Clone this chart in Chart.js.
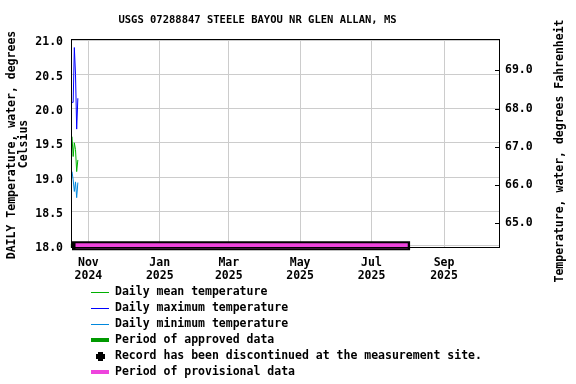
<!DOCTYPE html>
<html>
<head>
<meta charset="utf-8">
<script src="https://cdn.jsdelivr.net/npm/chart.js@4"></script>
<style>
  body { margin: 0; background: #fff; }
  #chart { display: block; }
</style>
</head>
<body>
<canvas id="chart" width="576" height="384"></canvas>
<script>
// daily values (deg C)
const dataDays = ['2024-10-18', '2024-10-19', '2024-10-20', '2024-10-21', '2024-10-22', '2024-10-23']
const meanTemp = [19.59, 19.30, 19.50, 19.40, 19.08, 19.25]
const maxTemp = [20.09, 20.09, 20.89, 20.50, 19.70, 20.15]
const minTemp = [19.08, 18.96, 18.79, 18.93, 18.70, 18.92]

// periods drawn along the bottom of the plot
const approvedPeriod = ['2024-10-17', '2024-10-18']
const discontinuedPeriod = ['2024-10-18', '2025-08-03']
const provisionalPeriod = ['2024-10-21', '2025-08-01']

// axes
const xRange = ['2024-10-18', '2025-10-18']
const monthTicks = ['2024-11-01', '2025-01-01', '2025-03-01', '2025-05-01', '2025-07-01', '2025-09-01']
const monthLabels = [['Nov', '2024'], ['Jan', '2025'], ['Mar', '2025'], ['May', '2025'], ['Jul', '2025'], ['Sep', '2025']]
const celsiusTicks = [18.0, 18.5, 19.0, 19.5, 20.0, 20.5, 21.0]
const fahrenheitTicks = [65.0, 66.0, 67.0, 68.0, 69.0]
const celsiusRange = [17.98, 21.0]

const legendItems = [
  { label: 'Daily mean temperature', kind: 'line', color: '#00b000' },
  { label: 'Daily maximum temperature', kind: 'line', color: '#0000ff' },
  { label: 'Daily minimum temperature', kind: 'line', color: '#0088dd' },
  { label: 'Period of approved data', kind: 'bar', color: '#009900' },
  { label: 'Record has been discontinued at the measurement site.', kind: 'cross', color: '#000000' },
  { label: 'Period of provisional data', kind: 'bar', color: '#ee44dd' }
]

const FONT = '"DejaVu Sans Mono", "Liberation Mono", monospace'
const day = d => Date.parse(d) / 86400000
const toF = c => c * 9 / 5 + 32

const series = vals => vals.map((v, i) => ({ x: day(dataDays[i]), y: v }))
const period = p => p.map(d => ({ x: day(d), y: 18.0 }))

const lineSet = (label, vals, color) => ({
  label, data: series(vals), borderColor: color, borderWidth: 1,
  pointRadius: 0, tension: 0, order: 0
})

const barSet = (label, p, color, width, order) => ({
  label, data: period(p), borderColor: color, borderWidth: width,
  borderCapStyle: 'butt', pointRadius: 0, clip: false, order
})

// frame, axis titles, right ticks and legend
const decorations = {
  id: 'decorations',
  afterDraw(chart) {
    const { ctx, chartArea: a } = chart
    ctx.save()
    ctx.strokeStyle = '#000'
    ctx.lineWidth = 1
    ctx.strokeRect(a.left - 0.5, a.top - 0.5, a.right - a.left + 1, a.bottom - a.top + 1)

    // inward tick marks on the Fahrenheit axis
    const yF = chart.scales.yF
    ctx.beginPath()
    fahrenheitTicks.forEach(t => {
      const y = Math.round(yF.getPixelForValue(t)) + 0.5
      ctx.moveTo(a.right - 4, y)
      ctx.lineTo(a.right + 0.5, y)
    })
    ctx.stroke()

    ctx.fillStyle = '#000'
    ctx.textBaseline = 'middle'
    ctx.textAlign = 'center'
    ctx.font = 'bold 10.5px ' + FONT
    ctx.fillText('USGS 07288847 STEELE BAYOU NR GLEN ALLAN, MS', 257.5, 20)

    ctx.font = 'bold 11.5px ' + FONT
    const vText = (text, x, y) => {
      ctx.save()
      ctx.translate(x, y)
      ctx.rotate(-Math.PI / 2)
      ctx.fillText(text, 0, 0)
      ctx.restore()
    }
    vText('DAILY Temperature, water, degrees', 12, 145)
    vText('Celsius', 24.5, 144)
    vText('Temperature, water, degrees Fahrenheit', 560, 151)

    // legend
    ctx.textAlign = 'left'
    legendItems.forEach((item, i) => {
      const y = 292.5 + i * 16
      ctx.fillStyle = item.color
      if (item.kind === 'line') {
        ctx.fillRect(91, Math.floor(y), 18, 1)
      } else if (item.kind === 'bar') {
        ctx.fillRect(91, Math.floor(y) - 2, 18, 4)
      } else {
        ctx.fillRect(96, Math.floor(y) - 2, 9, 5)
        ctx.fillRect(98, Math.floor(y) - 4, 5, 9)
      }
      ctx.fillStyle = '#000'
      ctx.fillText(item.label, 115, y)
    })
    ctx.restore()
  }
}

const tickFont = { family: FONT, size: 11.5, weight: 'bold', lineHeight: 1.17 }

new Chart(document.querySelector('#chart').getContext('2d'), {
  type: 'line',
  data: {
    datasets: [
      lineSet('Daily mean temperature', meanTemp, '#00b000'),
      lineSet('Daily maximum temperature', maxTemp, '#0000ff'),
      lineSet('Daily minimum temperature', minTemp, '#0088dd'),
      barSet('Period of provisional data', provisionalPeriod, '#ee44dd', 5, 1),
      barSet('Record discontinued', discontinuedPeriod, '#000000', 9, 2),
      barSet('Period of approved data', approvedPeriod, '#009900', 4, 3)
    ]
  },
  options: {
    responsive: false,
    animation: false,
    layout: { padding: { top: 40, left: 0, right: 0, bottom: 0 } },
    plugins: { legend: { display: false }, tooltip: { enabled: false } },
    scales: {
      x: {
        type: 'linear',
        min: day(xRange[0]),
        max: day(xRange[1]),
        afterBuildTicks: s => { s.ticks = monthTicks.map(d => ({ value: day(d) })) },
        afterFit: s => { s.height = 137 },
        ticks: {
          autoSkip: false, maxRotation: 0, padding: 9, color: '#000', font: tickFont,
          callback: (v, i) => monthLabels[i]
        },
        grid: { color: '#cccccc', drawTicks: false },
        border: { display: false }
      },
      y: {
        position: 'left',
        min: celsiusRange[0],
        max: celsiusRange[1],
        afterBuildTicks: s => { s.ticks = celsiusTicks.map(v => ({ value: v })) },
        afterFit: s => { s.width = 72 },
        ticks: { padding: 9, labelOffset: 2.5, color: '#000', font: tickFont, callback: v => v.toFixed(1) },
        grid: { color: '#cccccc', drawTicks: false },
        border: { display: false }
      },
      yF: {
        position: 'right',
        display: true,
        min: toF(celsiusRange[0]),
        max: toF(celsiusRange[1]),
        afterBuildTicks: s => { s.ticks = fahrenheitTicks.map(v => ({ value: v })) },
        afterFit: s => { s.width = 77 },
        ticks: { padding: 6, color: '#000', font: tickFont, callback: v => v.toFixed(1) },
        grid: { display: false, drawTicks: false },
        border: { display: false }
      }
    }
  },
  plugins: [decorations]
})
</script>
</body>
</html>
